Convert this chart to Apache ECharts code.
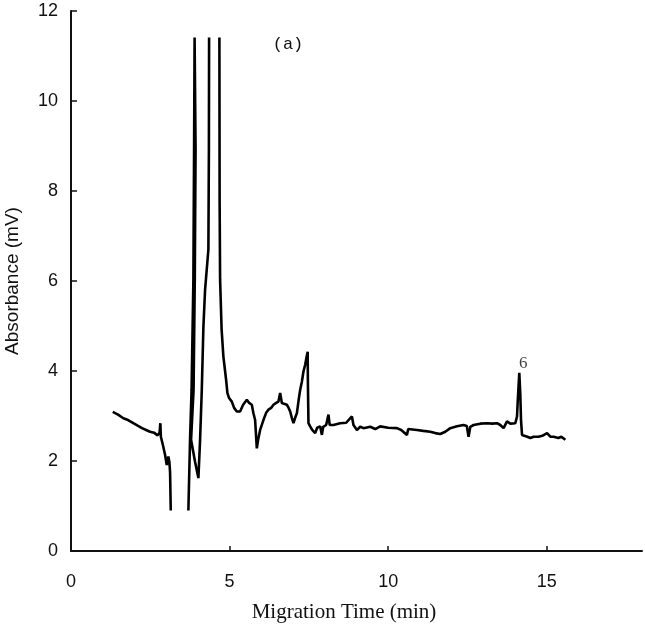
<!DOCTYPE html>
<html>
<head>
<meta charset="utf-8">
<title>Electropherogram (a)</title>
<script src="https://cdn.jsdelivr.net/npm/echarts@6/dist/echarts.min.js"></script>
<style>
  html, body { margin: 0; padding: 0; background: #fff; }
  #main { width: 645px; height: 630px; }
</style>
</head>
<body>
<div id="main"></div>
<script>
// migration time (min) / absorbance (mV), null = off scale
var times = [
  1.316, 1.483, 1.650, 1.798, 1.965, 2.114, 2.240, 2.366, 2.492, 2.618,
  2.729, 2.792, 2.817, 2.833, 2.902, 2.965, 3.019, 3.069, 3.101, 3.123, 3.145,
  3.40,
  3.700, 3.754, 3.801, 3.858, 3.880, 3.896, 3.943, 3.927, 3.902, 3.864,
  3.785, 3.912, 4.016, 4.069, 4.123, 4.174, 4.227, 4.331, 4.347, 4.353,
  4.50,
  4.678, 4.685, 4.700, 4.748, 4.804, 4.890, 4.931, 4.984, 5.069, 5.142,
  5.227, 5.331, 5.426, 5.543, 5.615, 5.700, 5.751, 5.804, 5.858, 5.899,
  5.962, 6.066, 6.151, 6.224, 6.309, 6.382, 6.467, 6.539, 6.593, 6.647,
  6.719, 6.804, 6.861, 6.909, 6.962, 7.013, 7.066, 7.120, 7.177, 7.224,
  7.278, 7.328, 7.382, 7.429, 7.461, 7.467, 7.486, 7.539, 7.603, 7.697,
  7.760, 7.855, 7.909, 7.950, 8.044, 8.117, 8.155, 8.274, 8.486, 8.675,
  8.855, 8.905, 9.013, 9.117, 9.221, 9.432, 9.590, 9.748, 10.000, 10.274,
  10.410, 10.590, 10.631, 10.905, 11.104, 11.325, 11.483, 11.640, 11.798, 11.956,
  12.167, 12.375, 12.476, 12.533, 12.587, 12.691, 12.902, 13.114, 13.281, 13.429,
  13.533, 13.637, 13.744, 13.849, 14.006, 14.060, 14.085, 14.132, 14.164, 14.186,
  14.218, 14.268, 14.385, 14.479, 14.584, 14.732, 14.858, 15.006, 15.110, 15.215,
  15.363, 15.457, 15.584
];
var absorbance = [
  3.09, 3.03, 2.95, 2.91, 2.84, 2.78, 2.73, 2.69, 2.65, 2.63,
  2.57, 2.63, 2.84, 2.54, 2.34, 2.14, 1.91, 2.10, 1.98, 1.76, 0.90,
  null,
  0.90, 2.51, 3.58, 6.03, 8.92, 11.41, 11.41, 8.92, 6.03, 3.58,
  2.47, 1.98, 1.62, 2.47, 3.58, 4.98, 5.81, 6.70, 8.92, 11.41,
  null,
  11.41, 7.81, 6.03, 4.92, 4.32, 3.80, 3.51, 3.40, 3.32, 3.18,
  3.10, 3.10, 3.25, 3.36, 3.29, 3.25, 3.06, 2.91, 2.28, 2.47,
  2.69, 2.91, 3.07, 3.14, 3.18, 3.25, 3.29, 3.32, 3.51, 3.29,
  3.27, 3.25, 3.18, 3.10, 2.96, 2.84, 2.96, 3.06, 3.36, 3.58,
  3.76, 3.99, 4.14, 4.32, 4.43, 3.80, 2.84, 2.77, 2.69, 2.62,
  2.74, 2.77, 2.58, 2.76, 2.80, 3.03, 2.80, 2.80, 2.84, 2.85,
  2.99, 2.80, 2.69, 2.76, 2.73, 2.76, 2.71, 2.77, 2.74, 2.73,
  2.69, 2.58, 2.71, 2.69, 2.67, 2.65, 2.62, 2.60, 2.65, 2.73,
  2.77, 2.80, 2.78, 2.54, 2.76, 2.80, 2.83, 2.84, 2.83, 2.84,
  2.80, 2.73, 2.88, 2.83, 2.84, 2.99, 3.36, 3.96, 3.47, 2.91,
  2.58, 2.54, 2.54, 2.51, 2.54, 2.54, 2.56, 2.62, 2.54, 2.54,
  2.51, 2.54, 2.47
];
var xTicks = [0, 5, 10, 15];
var peakLabels = ['6'];
var peakTimes = [14.132];

var chart = echarts.init(document.getElementById('main'));

var traceData = [];
for (var i = 0; i < times.length; i++) {
  traceData.push([times[i], absorbance[i] === null ? '-' : absorbance[i]]);
}

// labelled peaks take their height from the trace itself
var peakData = [];
for (var j = 0; j < peakTimes.length; j++) {
  var k = times.indexOf(peakTimes[j]);
  peakData.push({ value: [times[k], absorbance[k]], name: peakLabels[j] });
}

var option = {
  backgroundColor: '#fff',
  animation: false,
  grid: { left: 71, right: 3, top: 11, bottom: 79 },
  xAxis: {
    type: 'value',
    min: 0,
    max: 18,
    axisLine: { lineStyle: { color: '#111', width: 2 } },
    axisTick: { inside: true, length: 5, customValues: xTicks, lineStyle: { color: '#111', width: 1.5 } },
    axisLabel: {
      customValues: xTicks,
      margin: 22,
      fontFamily: 'Liberation Sans',
      fontSize: 18,
      color: '#111'
    },
    splitLine: { show: false }
  },
  yAxis: {
    type: 'value',
    min: 0,
    max: 12,
    interval: 2,
    axisLine: { show: true, lineStyle: { color: '#111', width: 2 } },
    axisTick: { show: true, inside: true, length: 6, lineStyle: { color: '#111', width: 1.5 } },
    axisLabel: {
      margin: 13,
      fontFamily: 'Liberation Sans',
      fontSize: 18,
      color: '#111'
    },
    splitLine: { show: false }
  },
  graphic: [
    {
      type: 'text',
      x: 344, y: 612,
      style: {
        text: 'Migration Time (min)',
        font: '21px "Liberation Serif"',
        fill: '#111',
        textAlign: 'center',
        textVerticalAlign: 'middle'
      }
    },
    {
      type: 'text',
      x: 13, y: 281,
      rotation: Math.PI / 2,
      style: {
        text: 'Absorbance (mV)',
        font: '19px "Liberation Sans"',
        fill: '#111',
        textAlign: 'center',
        textVerticalAlign: 'middle'
      }
    },
    {
      type: 'text',
      x: 288, y: 44,
      style: {
        text: '(a)',
        font: '17px "Liberation Mono"',
        fill: '#111',
        textAlign: 'center',
        textVerticalAlign: 'middle'
      }
    }
  ],
  series: [
    {
      type: 'line',
      data: traceData,
      showSymbol: false,
      connectNulls: false,
      lineStyle: { color: '#000', width: 2.6 },
      itemStyle: { color: '#000' }
    },
    {
      type: 'scatter',
      data: peakData,
      symbolSize: 0,
      silent: true,
      label: {
        show: true,
        formatter: '{b}',
        position: 'top',
        distance: 1,
        offset: [4, 0],
        fontFamily: 'Liberation Serif',
        fontSize: 17,
        color: '#111'
      }
    }
  ]
};

chart.setOption(option);
</script>
</body>
</html>
